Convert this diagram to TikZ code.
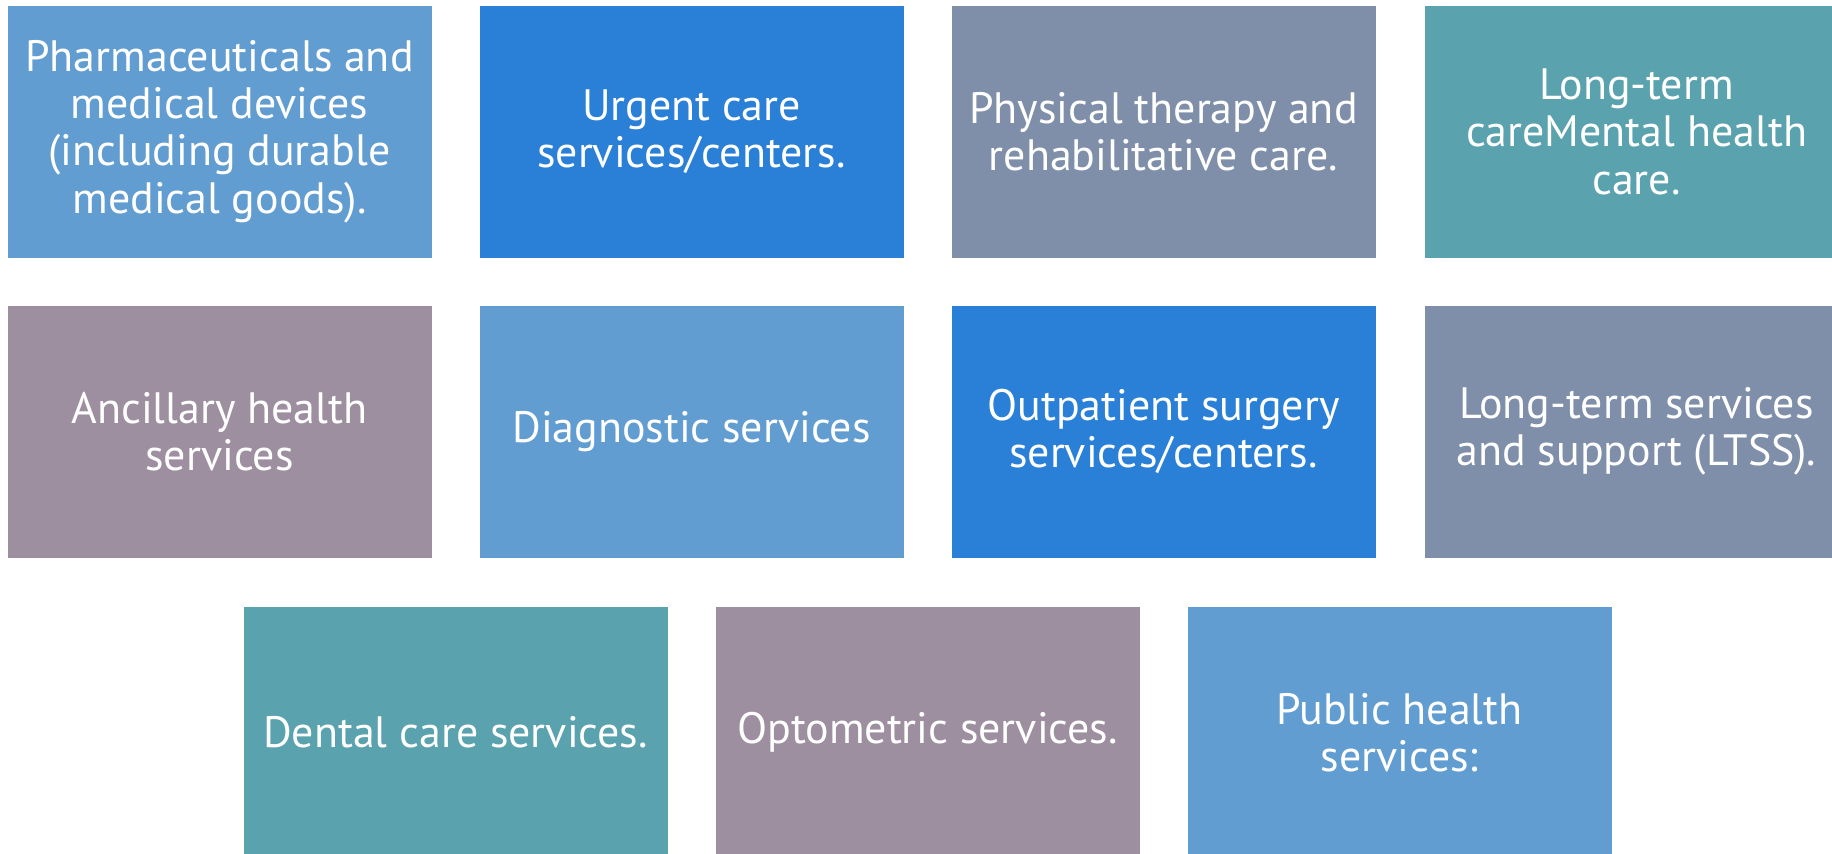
\documentclass[tikz,border=0pt]{standalone}
\usepackage{fontspec}
\setmainfont{PT Sans}
\usetikzlibrary{positioning}

\definecolor{lblue}{HTML}{629DD1}
\definecolor{dblue}{HTML}{2A7FD6}
\definecolor{slate}{HTML}{7F8FA9}
\definecolor{teal}{HTML}{5AA2AE}
\definecolor{mauve}{HTML}{9E8FA0}

\tikzset{
    service/.style={rectangle, draw=white, line width=0.4pt, minimum width=8.5cm, minimum height=5.06cm,
        inner sep=0pt, text=white, align=center, font=\fontsize{25}{27}\selectfont}
}

\begin{document}
\begin{tikzpicture}[x=0.02cm,y=-0.02cm]
        \clip (0,0) rectangle (1832,854);
        \fill[white] (0,0) rectangle (1832,854);

        % Top row
        \node[service, fill=lblue] (pharma) at (219.5,131.5) {Pharmaceuticals and\\medical devices\\(including durable\\medical goods).};
        \node[service, fill=dblue] (urgent) at (691.5,131.5) {Urgent care\\services/centers.};
        \node[service, fill=slate] (physio) at (1163.5,131.5) {Physical therapy and\\rehabilitative care.};
        \node[service, fill=teal] (longterm) at (1636.5,131.5) {Long-term\\careMental health\\care.};

        % Middle row
        \node[service, fill=mauve] (ancillary) at (219.5,431.5) {Ancillary health\\services};
        \node[service, fill=lblue] (diagnostic) at (691.5,431.5) {Diagnostic services};
        \node[service, fill=dblue] (outpatient) at (1163.5,431.5) {Outpatient surgery\\services/centers.};
        \node[service, fill=slate] (ltss) at (1636.5,431.5) {Long-term services\\and support (LTSS).};

        % Bottom row
        \node[service, fill=teal] (dental) at (455.5,732.5) {Dental care services.};
        \node[service, fill=mauve] (optometric) at (927.5,732.5) {Optometric services.};
        \node[service, fill=lblue] (public) at (1399.5,732.5) {Public health\\services:};
    \end{tikzpicture}
\end{document}
